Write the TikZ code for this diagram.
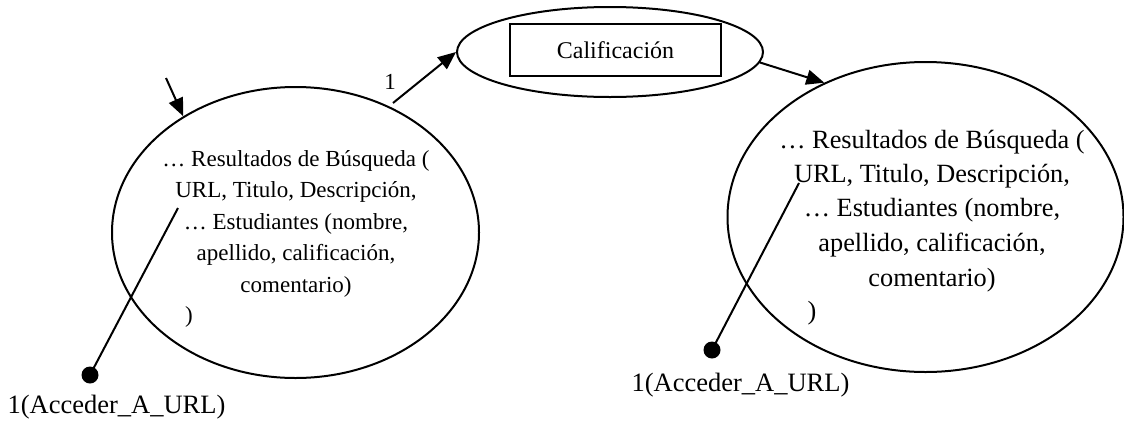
\documentclass[tikz,border=0pt]{standalone}
\usepackage{fontspec}
\setmainfont{Liberation Serif}
\usetikzlibrary{shapes.geometric,arrows.meta}
\begin{document}
\begin{tikzpicture}[x=1pt,y=-1pt,
  line width=2pt,
  bubble/.style={draw,ellipse,inner sep=0pt},
  linetxtL/.style={anchor=base,inner sep=0pt,font=\fontsize{23}{28}\selectfont},
  linetxtR/.style={anchor=base,inner sep=0pt,font=\fontsize{26.3}{32}\selectfont},
  lbl/.style={anchor=base,inner sep=0pt,font=\fontsize{26.5}{32}\selectfont},
  flow/.style={-{Triangle[length=18pt,width=15pt,line join=miter]}},
  pin/.style={circle,fill=black,inner sep=0pt,minimum size=17pt}]
\useasboundingbox (0,0) rectangle (1124,421);

% process bubbles
\node[bubble,minimum width=367pt,minimum height=291pt] (L) at (295.5,232.5) {};
\node[bubble,minimum width=306pt,minimum height=90pt] (T) at (610,52) {};
\node[bubble,minimum width=396pt,minimum height=310pt] (R) at (925.5,217) {};
\node[draw,minimum width=211pt,minimum height=52pt,inner sep=0pt,
      font=\fontsize{24}{28}\selectfont] (box) at (615.5,50) {Calificación};

% contents of the left bubble
\node[linetxtL] (l1) at (296,166) {… Resultados de Búsqueda (};
\node[linetxtL] (l2) at (296,197) {URL, Titulo, Descripción,};
\node[linetxtL] (l3) at (296,229) {… Estudiantes (nombre,};
\node[linetxtL] (l4) at (296,260) {apellido, calificación,};
\node[linetxtL] (l5) at (296,292) {comentario)};
\node[linetxtL] (l6) at (189,322) {)};

% contents of the right bubble
\node[linetxtR] (r1) at (932,148) {… Resultados de Búsqueda (};
\node[linetxtR] (r2) at (932,182) {URL, Titulo, Descripción,};
\node[linetxtR] (r3) at (932,216) {… Estudiantes (nombre,};
\node[linetxtR] (r4) at (932,251) {apellido, calificación,};
\node[linetxtR] (r5) at (932,286) {comentario)};
\node[linetxtR] (r6) at (812,319) {)};

% flows
\coordinate (in) at (166,78);
\coordinate (outL) at (393,103);
\draw[flow] (in) -- (L.134);
\draw[flow] (outL) -- (T.west);
\node[font=\fontsize{23}{26}\selectfont,inner sep=0pt] (one) at (390,82) {1};
\draw[flow] (T.-4) -- (R.127);

% access pins
\coordinate (pL) at (178,208);
\node[pin] (dL) at (90,375) {};
\draw (pL) -- (dL.center);
\node[lbl] (aL) at (116.5,413) {1(Acceder\_A\_URL)};

\coordinate (pR) at (799,183);
\node[pin] (dR) at (712,350) {};
\draw (pR) -- (dR.center);
\node[lbl] (aR) at (740.5,391) {1(Acceder\_A\_URL)};
\end{tikzpicture}
\end{document}
